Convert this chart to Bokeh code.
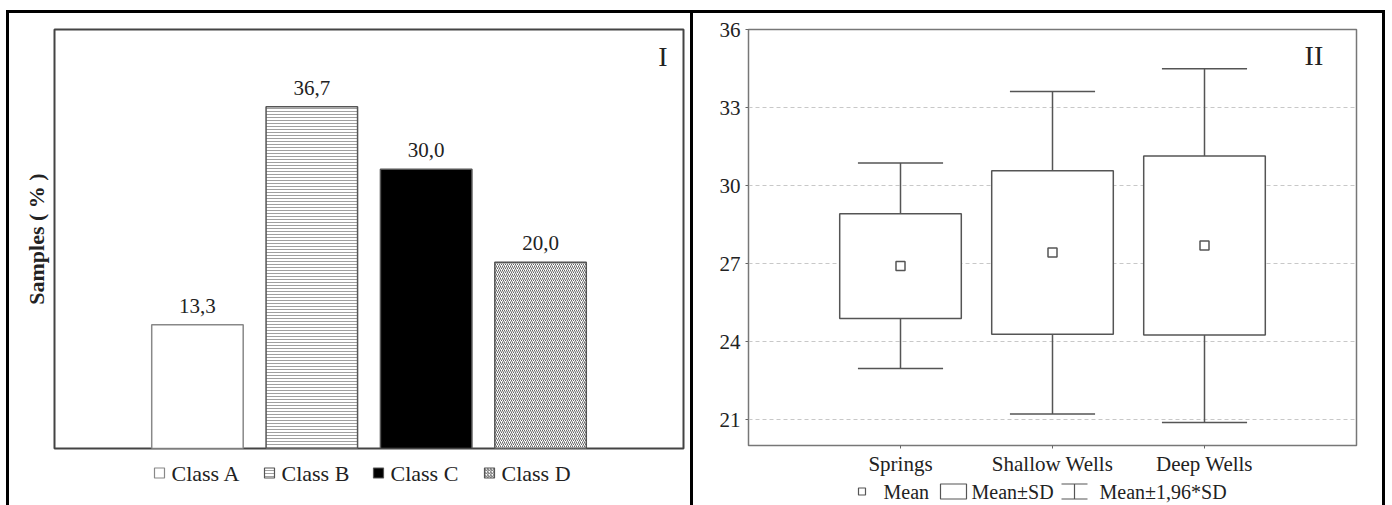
from bokeh.plotting import figure
from bokeh.models import Range1d, FixedTicker, Label
from bokeh.layouts import row, column
from bokeh.embed import file_html
from bokeh.resources import INLINE
from bokeh.core.properties import value

FONT = "Liberation Serif"
TXT = "#222222"

# ---------------- data ----------------
# Panel I : share of samples per class (%)
classes = ["Class A", "Class B", "Class C", "Class D"]
samples_pct = [13.3, 36.7, 30.0, 20.0]

# Panel II : box plot statistics per source
sites = ["Springs", "Shallow Wells", "Deep Wells"]
mean_vals = [26.90, 27.42, 27.69]
sd_low = [24.88, 24.28, 24.25]
sd_high = [28.91, 30.57, 31.13]
ci_low = [22.96, 21.21, 20.88]
ci_high = [30.87, 33.62, 34.49]
y_ticks = [21, 24, 27, 30, 33, 36]
legend2_labels = ["Mean", "Mean\u00b1SD", "Mean\u00b11,96*SD"]

# ---------------- panel I ----------------
W1, BL1, BR1 = 681, 45, 7
p1 = figure(width=W1, height=437, x_range=Range1d(-0.25, 5.25), y_range=Range1d(0, 45),
            output_backend="svg", toolbar_location=None, x_axis_location=None,
            min_border_left=BL1, min_border_right=BR1, min_border_top=16, min_border_bottom=2)
p1.grid.visible = False
p1.outline_line_color = "#444444"
p1.outline_line_width = 2

ya = p1.yaxis[0]
ya.ticker = FixedTicker(ticks=[])
ya.axis_line_color = None
ya.major_tick_line_color = None
ya.minor_tick_line_color = None
ya.axis_label = "Samples ( % )"
ya.axis_label_text_font = FONT
ya.axis_label_text_font_style = "bold"
ya.axis_label_text_font_size = "22px"
ya.axis_label_text_color = TXT
ya.axis_label_standoff = 6

bar_styles = [
    dict(fill_color="white", line_color="#888888"),
    dict(fill_color="white", hatch_pattern="horizontal_line", hatch_color="#a0a0a0",
         hatch_scale=3, hatch_weight=1, line_color="#555555"),
    dict(fill_color="black", line_color="#555555"),
    dict(fill_color="white", hatch_pattern="right_diagonal_line", hatch_color="#666666",
         hatch_scale=4, hatch_weight=1, line_color="#555555"),
]
xs1 = list(range(1, len(classes) + 1))
for i, v in enumerate(samples_pct):
    p1.vbar(x=[xs1[i]], top=[v], bottom=0, width=0.8, line_width=1.5, **bar_styles[i])

labels1 = [f"{v:.1f}".replace(".", ",") for v in samples_pct]
p1.text(x=xs1, y=samples_pct, text=labels1, text_font=value(FONT), text_font_size="21px",
        text_align="center", text_baseline="alphabetic", y_offset=-19, text_color=TXT)

p1.add_layout(Label(x=5.07, y=42.1, text="I", text_font=FONT, text_font_size="28px",
                    text_align="center", text_baseline="middle", text_color=TXT))

# legend strip for panel I (x in canvas pixels; its frame aligns with panel I's frame)
s1 = figure(width=W1, height=55, x_range=Range1d(BL1, W1 - BR1), y_range=Range1d(0, 55),
            output_backend="svg", toolbar_location=None, x_axis_location=None,
            y_axis_location=None, min_border=0, outline_line_color=None)
s1.grid.visible = False
y1c = 32.5
sq_left = [145, 255, 364, 475]
for i, c in enumerate(classes):
    st = dict(bar_styles[i])
    if "hatch_scale" in st:
        st["hatch_scale"] = 3
    s1.quad(left=[sq_left[i]], right=[sq_left[i] + 10], bottom=[y1c - 5], top=[y1c + 5],
            line_width=1.2, **st)
s1.text(x=[x + 17 for x in sq_left], y=[y1c] * len(classes), text=classes,
        text_font=value(FONT), text_font_size="22px", text_baseline="middle",
        text_align="left", text_color=TXT)

# ---------------- panel II ----------------
W2, BL2, BR2 = 689, 55, 26
p2 = figure(width=W2, height=466, x_range=Range1d(0, 4), y_range=Range1d(20, 36),
            output_backend="svg", toolbar_location=None,
            min_border_left=BL2, min_border_right=BR2, min_border_top=16, min_border_bottom=34)
p2.outline_line_color = "#777777"
p2.outline_line_width = 1.5
p2.xgrid.visible = False
p2.ygrid.ticker = FixedTicker(ticks=y_ticks)
p2.ygrid.grid_line_color = "#c8c8c8"
p2.ygrid.grid_line_dash = "4 3"

xs2 = list(range(1, len(sites) + 1))
for ax, ticks in ((p2.xaxis[0], xs2), (p2.yaxis[0], y_ticks)):
    ax.ticker = FixedTicker(ticks=ticks)
    ax.axis_line_color = None
    ax.major_tick_out = 3
    ax.major_tick_in = 0
    ax.major_tick_line_color = "#666666"
    ax.minor_tick_line_color = None
    ax.major_label_text_font = FONT
    ax.major_label_text_font_size = "21px"
    ax.major_label_text_color = TXT
    ax.major_label_standoff = 5
p2.xaxis[0].major_label_standoff = 3
p2.xaxis[0].major_label_overrides = {x: s for x, s in zip(xs2, sites)}

LC = "#555555"
p2.segment(x0=xs2, y0=ci_low, x1=xs2, y1=ci_high, line_color=LC, line_width=1.5)
cap = 0.28
p2.segment(x0=[x - cap for x in xs2], y0=ci_high, x1=[x + cap for x in xs2], y1=ci_high,
           line_color=LC, line_width=1.5)
p2.segment(x0=[x - cap for x in xs2], y0=ci_low, x1=[x + cap for x in xs2], y1=ci_low,
           line_color=LC, line_width=1.5)
p2.quad(left=[x - 0.4 for x in xs2], right=[x + 0.4 for x in xs2], bottom=sd_low, top=sd_high,
        fill_color="white", line_color=LC, line_width=1.5)
p2.scatter(x=xs2, y=mean_vals, marker="square", size=9, fill_color="white",
           line_color=LC, line_width=1.5)

p2.add_layout(Label(x=3.72, y=35.0, text="II", text_font=FONT, text_font_size="28px",
                    text_align="center", text_baseline="middle", text_color=TXT))

# legend strip for panel II (x in canvas pixels; its frame aligns with panel II's frame)
s2 = figure(width=W2, height=26, x_range=Range1d(BL2, W2 - BR2), y_range=Range1d(0, 26),
            output_backend="svg", toolbar_location=None, x_axis_location=None,
            y_axis_location=None, min_border=0, outline_line_color=None)
s2.grid.visible = False
yc = 14
s2.scatter(x=[168.5], y=[yc], marker="square", size=7, fill_color="white",
           line_color=LC, line_width=1.2)
s2.quad(left=[247], right=[273], bottom=[yc - 7.5], top=[yc + 7.5], fill_color="white",
        line_color=LC, line_width=1.2)
s2.segment(x0=[368, 368, 381], y0=[yc + 7.5, yc - 7.5, yc - 7.5], x1=[394, 394, 381],
           y1=[yc + 7.5, yc - 7.5, yc + 7.5], line_color=LC, line_width=1.2)
s2.text(x=[190, 278, 406], y=[yc] * 3, text=legend2_labels, text_font=value(FONT),
        text_font_size="20px", text_baseline="middle", text_align="left", text_color=TXT)

left_col = column(p1, s1)
left_col.styles = {"border-right": "3px solid black"}
layout = row(left_col, column(p2, s2))
layout.margin = (10, 0, 0, 6)
layout.styles = {"border-top": "3px solid black", "border-left": "3px solid black",
                 "border-right": "3px solid black"}

open("out.html", "w").write(file_html(layout, INLINE))
